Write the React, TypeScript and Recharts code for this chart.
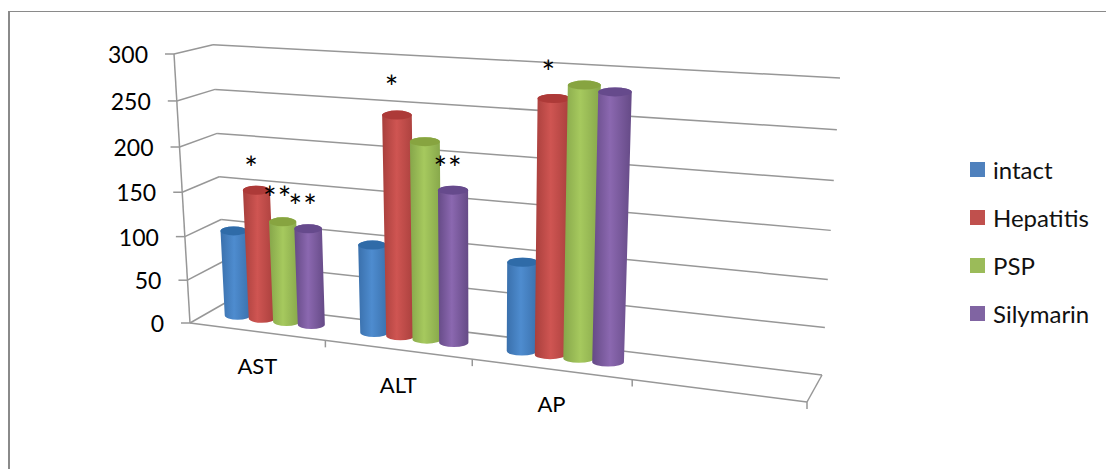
import React from "react";
import { BarChart, Bar, XAxis, YAxis, CartesianGrid, Legend } from "recharts";

const categories = ["AST", "ALT", "AP", ""];
const intact = [99, 99, 97, null];
const hepatitis = [148, 242, 269, null];
const psp = [115, 216, 284, null];
const silymarin = [110, 167, 279, null];

const starsIntact = ["", "", ""];
const starsHepatitis = ["*", "*", "*"];
const starsPsp = ["**", "", ""];
const starsSilymarin = ["**", "**", ""];

const yTicks = [0, 50, 100, 150, 200, 250, 300];

const chartData = categories.map((name, i) => ({
  name,
  intact: intact[i],
  Hepatitis: hepatitis[i],
  PSP: psp[i],
  Silymarin: silymarin[i],
}));

const FONT = "Lato, 'Open Sans', sans-serif";
const LINE = "#979797";

// plot area used by the scales, everything is projected from here to the 3D planes
const PLOT = { left: 100, top: 50, width: 700, height: 300 };

type Pt = [number, number];

// square -> quad projection, corners are TL, TR, BR, BL
const makePlane = (q: Pt[]) => {
  const [[x0, y0], [x1, y1], [x2, y2], [x3, y3]] = q;
  const dx1 = x1 - x2, dx2 = x3 - x2, sx = x0 - x1 + x2 - x3;
  const dy1 = y1 - y2, dy2 = y3 - y2, sy = y0 - y1 + y2 - y3;
  const den = dx1 * dy2 - dx2 * dy1;
  const g = (sx * dy2 - dx2 * sy) / den;
  const h = (dx1 * sy - sx * dy1) / den;
  const a = x1 - x0 + g * x1, b = x3 - x0 + h * x3;
  const d = y1 - y0 + g * y1, e = y3 - y0 + h * y3;
  return (px: number, py: number): Pt => {
    const u = (px - PLOT.left) / PLOT.width;
    const v = (py - PLOT.top) / PLOT.height;
    const w = g * u + h * v + 1;
    return [(a * u + b * v + x0) / w, (d * u + e * v + y0) / w];
  };
};

const wallPlane = makePlane([[213, 44.7], [840, 78], [822, 375], [225, 303]]);
const frontPlane = makePlane([[174, 54], [830, 85], [807, 402], [190, 323]]);
const barPlane = makePlane([[193.5, 49], [835, 81.5], [814.5, 388], [207.5, 311.5]]);

const seg = (a: Pt, b: Pt, key: string) => (
  <line key={key} x1={a[0]} y1={a[1]} x2={b[0]} y2={b[1]} stroke={LINE} strokeWidth={1.5} />
);

// one gridline is the back wall line, the side wall line and the tick
const GridRow = (props: any) => {
  const { y1, x1, x2 } = props;
  const left = frontPlane(x1, y1);
  const back = wallPlane(x1, y1);
  const right = wallPlane(x2, y1);
  const isFloor = Math.abs(y1 - (PLOT.top + PLOT.height)) < 0.5;
  return (
    <g key={props.key}>
      {seg(right, back, "wall")}
      {seg(back, left, "side")}
      {seg([left[0] - 9, left[1]], left, "tick")}
      {isFloor && seg(left, frontPlane(x2, y1), "floor")}
      {isFloor && seg(frontPlane(x2, y1), right, "edge")}
      {isFloor && seg(frontPlane(x1, PLOT.top), left, "front")}
    </g>
  );
};

const YTick = ({ y, payload }: any) => {
  const p = frontPlane(PLOT.left, y);
  return (
    <text x={p[0] - 26} y={p[1] + 9} textAnchor="end" fontFamily={FONT} fontSize={23} fill="#000">
      {payload.value}
    </text>
  );
};

const XTick = ({ x, payload }: any) => {
  const band = PLOT.width / categories.length;
  const floorY = PLOT.top + PLOT.height;
  const mid = frontPlane(x, floorY);
  const mark = frontPlane(x + band / 2, floorY);
  return (
    <g>
      {seg(mark, [mark[0], mark[1] + 7], "mark")}
      <text x={mid[0] + 1} y={mid[1] + 43} textAnchor="middle" fontFamily={FONT} fontSize={22} fill="#000">
        {payload.value}
      </text>
    </g>
  );
};

const Gradient = ({ id, edge, mid }: { id: string; edge: string; mid: string }) => (
  <linearGradient id={id} x1="0" y1="0" x2="1" y2="0">
    <stop offset="0%" stopColor={edge} />
    <stop offset="45%" stopColor={mid} />
    <stop offset="100%" stopColor={edge} />
  </linearGradient>
);

const cylinder = (id: string, lid: string, stars: string[], lift = [32, 32, 32]) => (props: any) => {
  const { x, y, width, height, index } = props;
  if (!height) return null;
  const grow = width * 0.04;
  const tl = barPlane(x - grow, y);
  const tr = barPlane(x + width + grow, y);
  const br = barPlane(x + width + grow, y + height);
  const bl = barPlane(x - grow, y + height);
  // lids and bottoms stay level, the real ones barely tilt
  const topY = (tl[1] + tr[1]) / 2;
  const botY = (bl[1] + br[1]) / 2;
  const rxTop = (tr[0] - tl[0]) / 2;
  const rxBot = (br[0] - bl[0]) / 2;
  const ry = 4.5;
  const body = `M${tl[0]},${topY} L${bl[0]},${botY} A${rxBot},${ry} 0 0 0 ${br[0]},${botY} L${tr[0]},${topY} A${rxTop},${ry} 0 0 0 ${tl[0]},${topY} Z`;
  const top = `M${tl[0]},${topY} A${rxTop},${ry} 0 0 0 ${tr[0]},${topY} A${rxTop},${ry} 0 0 0 ${tl[0]},${topY} Z`;
  return (
    <g>
      <path d={body} fill={`url(#${id})`} />
      <path d={top} fill={lid} />
      {stars[index] ? (
        <text x={tl[0] + rxTop - 5} y={topY - lift[index] + 14} textAnchor="middle" fontFamily={FONT} fontSize={32} letterSpacing={1} fill="#000">
          {stars[index]}
        </text>
      ) : null}
    </g>
  );
};

const LegendBox = ({ payload }: any) => (
  <div style={{ fontFamily: FONT, fontSize: 24, color: "#111" }}>
    {(payload || []).map((item: any) => (
      <div key={item.value} style={{ display: "flex", alignItems: "center", height: 48 }}>
        <span style={{ width: 15, height: 15, background: item.color, marginRight: 8 }} />
        <span>{item.value}</span>
      </div>
    ))}
  </div>
);

export default function App() {
  return (
    <div style={{ position: "absolute", left: 0, top: 0, width: 1106, height: 469, background: "#fff" }}>
      <div
        style={{
          position: "absolute",
          left: 8,
          top: 11,
          width: 1098,
          height: 458,
          borderTop: "1px solid #8a8a8a",
          borderLeft: "2px solid #8a8a8a",
          boxSizing: "border-box",
        }}
      />
      <BarChart
        width={1106}
        height={469}
        data={chartData}
        barCategoryGap="14%"
        barGap={0}
        margin={{ left: 0, top: PLOT.top, right: 1106 - PLOT.left - PLOT.width, bottom: 0 }}
        style={{ position: "absolute", left: 0, top: 0 }}
      >
        <defs>
          <Gradient id="cylBlue" edge="#3A70AC" mid="#4E8CCF" />
          <Gradient id="cylRed" edge="#A83F3C" mid="#CF5552" />
          <Gradient id="cylGreen" edge="#86A64A" mid="#A6C95E" />
          <Gradient id="cylPurple" edge="#654A86" mid="#8B68B0" />
        </defs>
        <CartesianGrid vertical={false} horizontal={GridRow} />
        <XAxis dataKey="name" axisLine={false} tickLine={false} interval={0} height={469 - PLOT.top - PLOT.height} tick={XTick} />
        <YAxis domain={[0, 300]} ticks={yTicks} axisLine={false} tickLine={false} width={PLOT.left} tick={YTick} />
        <Bar dataKey="intact" fill="#4F81BD" isAnimationActive={false} shape={cylinder("cylBlue", "#2F6BA8", starsIntact)} />
        <Bar dataKey="Hepatitis" fill="#C0504D" isAnimationActive={false} shape={cylinder("cylRed", "#AD3A38", starsHepatitis, [24, 30, 28])} />
        <Bar dataKey="PSP" fill="#9BBB59" isAnimationActive={false} shape={cylinder("cylGreen", "#87A440", starsPsp, [26, 32, 32])} />
        <Bar dataKey="Silymarin" fill="#8064A2" isAnimationActive={false} shape={cylinder("cylPurple", "#664A8C", starsSilymarin, [25, 24, 32])} />
        <Legend
          layout="vertical"
          align="center"
          verticalAlign="middle"
          itemSorter={null}
          content={LegendBox}
          wrapperStyle={{ position: "absolute", left: 970, top: 145, width: 135, bottom: "auto", right: "auto" }}
        />
      </BarChart>
    </div>
  );
}
